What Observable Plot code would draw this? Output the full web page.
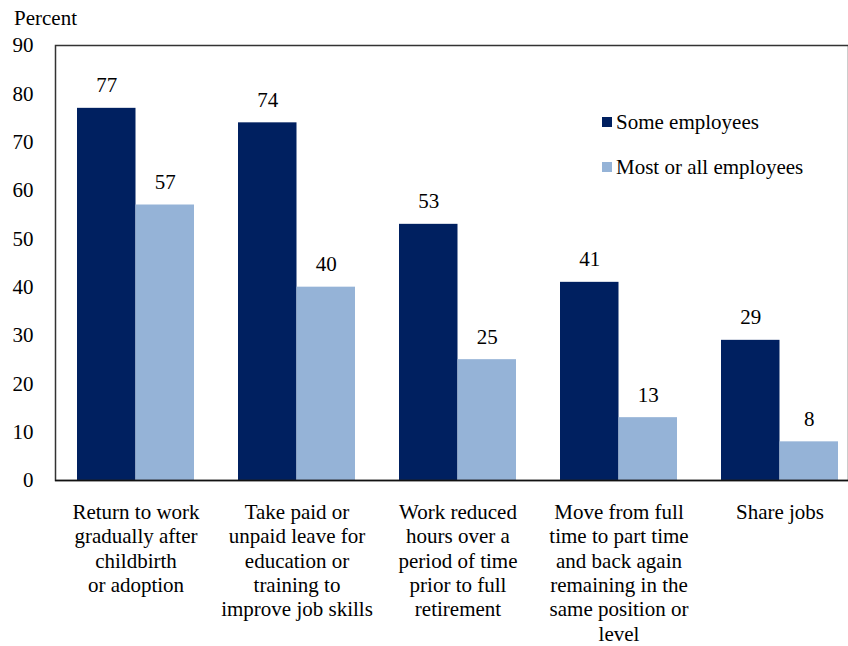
<!DOCTYPE html>
<html>
<head>
<meta charset="utf-8">
<script src="https://cdn.jsdelivr.net/npm/d3@7"></script>
<script src="https://cdn.jsdelivr.net/npm/@observablehq/plot@0.6"></script>
</head>
<body style="margin:0;padding:0;background:#fff;font-family:'Liberation Serif'">
<div id="wrap" style="position:relative;width:848px;height:646px;overflow:hidden;font-family:'Liberation Serif'">
  <div id="chart"></div>
  <div id="ylabel" style="position:absolute;left:14px;top:7px;font-family:'Liberation Serif';font-size:21px;color:#000;line-height:22px">Percent</div>
  <div id="legend" style="position:absolute;left:602px;top:110px;font-family:'Liberation Serif';font-size:21px;color:#000"></div>
</div>
<script>
const categories = [
  "Return to work\ngradually after\nchildbirth\nor adoption",
  "Take paid or\nunpaid leave for\neducation or\ntraining to\nimprove job skills",
  "Work reduced\nhours over a\nperiod of time\nprior to full\nretirement",
  "Move from full\ntime to part time\nand back again\nremaining in the\nsame position or\nlevel",
  "Share jobs"
];
const seriesNames = ["Some employees", "Most or all employees"];
const someEmployees = [77, 74, 53, 41, 29];
const mostOrAllEmployees = [57, 40, 25, 13, 8];
const yTicks = [0, 10, 20, 30, 40, 50, 60, 70, 80, 90];
const colors = ["#002060", "#95B3D7"];

const some = categories.map((c, i) => ({category: c, value: someEmployees[i]}));
const most = categories.map((c, i) => ({category: c, value: mostOrAllEmployees[i]}));

const FONT = "Liberation Serif";
const FS = 21;
const W = 848, H = 646;
const mL = 55, mT = 45, mB = 166;
const plotRight = 860;
const band = (plotRight - mL) / categories.length;
const half = band / 2;
const outer = 22;

function render() {
  const chart = Plot.plot({
    width: W,
    height: H,
    marginLeft: mL,
    marginTop: mT,
    marginBottom: mB,
    marginRight: 0,
    style: {fontFamily: FONT, fontSize: FS + "px", color: "#000", background: "#fff", overflow: "hidden"},
    x: {domain: categories, range: [mL, plotRight], padding: 0, axis: null},
    y: {domain: [0, 90], range: [H - mB, mT], axis: null},
    marks: [
      Plot.barY(some, {x: "category", y: "value", fill: colors[0], insetLeft: outer, insetRight: half}),
      Plot.barY(most, {x: "category", y: "value", fill: colors[1], insetLeft: half, insetRight: outer}),
      Plot.text(some, {x: "category", y: "value", text: d => String(d.value), dx: -(half - outer) / 2, dy: -16, lineAnchor: "bottom", fontSize: FS, fontFamily: FONT, fill: "#000"}),
      Plot.text(most, {x: "category", y: "value", text: d => String(d.value), dx: (half - outer) / 2, dy: -16, lineAnchor: "bottom", fontSize: FS, fontFamily: FONT, fill: "#000"}),
      Plot.axisY({ticks: yTicks, tickSize: 0, tickPadding: 22, label: null, fontSize: FS, fontFamily: FONT}),
      Plot.text(categories, {x: d => d, frameAnchor: "bottom", dy: 21, lineAnchor: "top", lineHeight: 24.4 / FS, fontSize: FS, fontFamily: FONT, fill: "#000"}),
      Plot.frame({stroke: "#333", strokeWidth: 1.5}),
      Plot.ruleY([0], {stroke: "#111", strokeWidth: 1.5})
    ]
  });
  chart.style.display = "block";
  chart.querySelectorAll("text").forEach(t => t.setAttribute("font-family", FONT));
  document.getElementById("chart").appendChild(chart);

  const legend = document.getElementById("legend");
  seriesNames.forEach((name, i) => {
    const item = document.createElement("div");
    item.style.cssText = "display:flex;align-items:center;height:24px;margin-bottom:21px;white-space:nowrap;font-family:'Liberation Serif'";
    const sw = document.createElement("span");
    sw.style.cssText = "display:inline-block;width:10px;height:10px;margin-right:4px;background:" + colors[i];
    const label = document.createElement("span");
    label.textContent = name;
    item.appendChild(sw);
    item.appendChild(label);
    legend.appendChild(item);
  });
}
render();
</script>
</body>
</html>
